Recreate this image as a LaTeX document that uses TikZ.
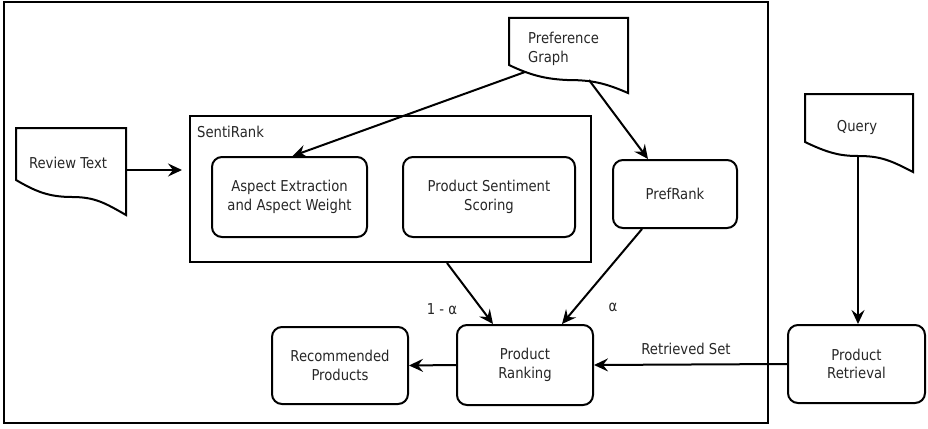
\documentclass[tikz,border=0pt]{standalone}
\usepackage{fontspec}
\setmainfont{DejaVu Sans}[FakeStretch=0.88]
\usetikzlibrary{arrows.meta,calc}
\begin{document}
\begin{tikzpicture}[x=1pt,y=-1pt,
  every node/.style={font=\fontsize{15}{18.8}\selectfont, text=black!85},
  box/.style={draw,line width=2pt,rounded corners=10pt,align=center,inner sep=0pt},
  plain/.style={draw,line width=2pt,inner sep=0pt},
  doc/.style={draw,line width=2pt,line join=miter},
  conn/.style={line width=2pt,-{Stealth[length=14pt,width=13pt,inset=5pt]}},
  lbl/.style={inner sep=0pt}]
\useasboundingbox (0,0) rectangle (928,428);

% outer frame
\node[plain,minimum width=764pt,minimum height=421pt] (frame) at (386,212.5) {};

% SentiRank container
\node[plain,minimum width=401pt,minimum height=146pt] (sr) at (390.5,189) {};
\node[lbl,anchor=west] (srlabel) at (197,132) {SentiRank};

% boxes
\node[box,minimum width=155pt,minimum height=80pt] (aspect) at (289.5,197) {Aspect Extraction\\and Aspect Weight};
\node[box,minimum width=172pt,minimum height=80pt] (pss) at (489,197) {Product Sentiment\\Scoring};
\node[box,minimum width=124pt,minimum height=68pt] (prefrank) at (675,194) {PrefRank};
\node[box,minimum width=136pt,minimum height=80pt] (pr) at (525,365) {Product\\Ranking};
\node[box,minimum width=136pt,minimum height=77pt] (rec) at (340,365.5) {Recommended\\Products};
\node[box,minimum width=137pt,minimum height=78pt] (retr) at (856.5,364) {Product\\Retrieval};

% document shapes
\draw[doc] (16,180) -- (16,128) -- (126,128) -- (126,215)
  .. controls (105,203) and (95,197) .. (72,197)
  .. controls (48,197) and (35,191) .. (16,180) -- cycle;
\node[lbl] (review) at (68,163) {Review Text};
\coordinate (reviewR) at (126,170);

\draw[doc] (509,65) -- (509,18) -- (628,18) -- (628,93)
  .. controls (605,83) and (592,80) .. (567,80)
  .. controls (545,79) and (530,75) .. (509,65) -- cycle;
\node[lbl,align=left,anchor=west] (pref) at (528,49) {Preference\\Graph};
\coordinate (prefA) at (525,72);
\coordinate (prefB) at (589,80);

\draw[doc] (805,142) -- (805,94) -- (913,94) -- (913,172)
  .. controls (890,160) and (880,156) .. (858,156)
  .. controls (840,156) and (828,153) .. (805,142) -- cycle;
\node[lbl] (query) at (857,127) {Query};
\coordinate (queryB) at (858,156);

% connectors
\draw[conn,shorten >=7pt] (reviewR) -- (reviewR -| sr.west);
\draw[conn] (prefA) -- ([xshift=3pt]aspect.north);
\draw[conn] (prefB) -- ([xshift=-27pt]prefrank.north);
\draw[conn] ([xshift=56.5pt]sr.south) -- ([xshift=-32pt]pr.north);
\draw[conn] ([xshift=-33pt]prefrank.south) -- ([xshift=37pt]pr.north);
\draw[conn] (queryB) -- (queryB |- retr.north);
\draw[conn] (retr.west) -- (pr.east);
\draw[conn] (pr.west) -- (rec.east);

% labels
\node[lbl] (oneminus) at (442,309) {1 - α};
\node[lbl] (alpha) at (613,307) {α};
\node[lbl] (retset) at (686,349) {Retrieved Set};
\end{tikzpicture}
\end{document}
